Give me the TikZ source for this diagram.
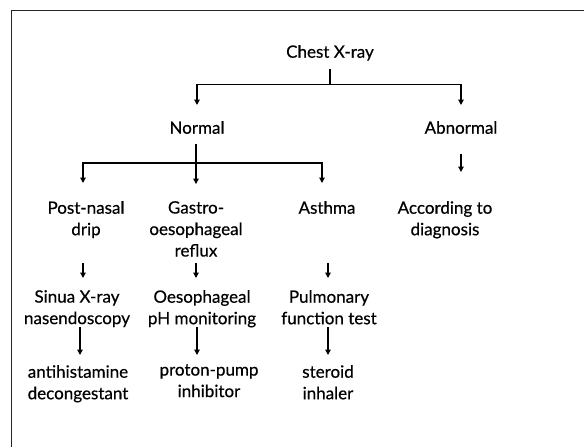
\documentclass[tikz,border=0pt]{standalone}
\usepackage{fontspec}
\setmainfont{Lato}
\newfontfamily\lblfont{Lato}[FakeBold=0.45]
\usetikzlibrary{arrows.meta,calc}
\tikzset{
  lbl/.style={inner sep=0pt, anchor=north, align=center, font=\lblfont\fontsize{17}{21.5}\selectfont},
  ln/.style={line width=1.2pt},
  arr/.style={ln, -{Triangle[length=5.5pt,width=5.5pt]}},
  frame/.style={line width=1pt, black!85}
}
\begin{document}
\begin{tikzpicture}[x=1pt,y=1pt]
\useasboundingbox (0,0) rectangle (584,-447);
\draw[frame] (11,-447) -- (11,-10) -- (584,-10);

\node[lbl] (cx) at (330,-45) {Chest X-ray};
\node[lbl] (normal) at (197,-121) {Normal};
\node[lbl] (abn) at (461,-121) {Abnormal};
\node[lbl] (pnd) at (86,-201) {Post-nasal\\drip};
\node[lbl] (gerd) at (196,-201) {Gastro-\\oesophageal\\reflux};
\node[lbl] (asthma) at (327,-201) {Asthma};
\node[lbl] (acc) at (445,-201) {According to\\diagnosis};
\node[lbl] (sinua) at (77,-290) {Sinua X-ray\\nasendoscopy};
\node[lbl] (oeso) at (202,-290) {Oesophageal\\pH monitoring};
\node[lbl] (pulm) at (329,-290) {Pulmonary\\function test};
\node[lbl] (anti) at (78,-365) {antihistamine\\decongestant};
\node[lbl] (ppi) at (209,-364) {proton-pump\\inhibitor};
\node[lbl] (ster) at (328,-365) {steroid\\inhaler};

\coordinate (j1) at ($(cx.south)+(0,-24)$);
\draw[ln] ($(cx.south)+(0,-8)$) -- (j1);
\draw[arr] (j1) -| ($(normal.north)+(0,16)$);
\draw[arr] (j1) -| ($(abn.north)+(0,16)$);

\coordinate (j2) at ($(normal.south)+(-1,-29)$);
\draw[ln] ($(normal.south)+(-1,-10)$) -- (j2);
\draw[arr] (j2) -| ($(pnd.north)+(-3,18)$);
\draw[arr] (j2) -- ($(gerd.north |- j2)+(0,-21)$);
\draw[arr] (j2) -| ($(asthma.north)+(-5,18)$);

\draw[arr] ($(abn.south)+(0,-20)$) -- ($(abn.south |- acc.north)+(0,29)$);

\draw[arr] ($(pnd.south |- sinua.north)+(-3,27)$) -- ($(pnd.south |- sinua.north)+(-3,12)$);
\draw[arr] ($(gerd.south |- oeso.north)+(0,27)$) -- ($(gerd.south |- oeso.north)+(0,12)$);
\draw[arr] ($(asthma.south |- pulm.north)+(1,27)$) -- ($(asthma.south |- pulm.north)+(1,12)$);

\draw[arr] ($(sinua.south |- anti.north)+(3,38)$) -- ($(sinua.south |- anti.north)+(3,10)$);
\draw[arr] ($(oeso.south |- anti.north)+(-5,38)$) -- ($(oeso.south |- anti.north)+(-5,10)$);
\draw[arr] ($(pulm.south |- anti.north)+(-1,38)$) -- ($(pulm.south |- anti.north)+(-1,10)$);
\end{tikzpicture}
\end{document}
